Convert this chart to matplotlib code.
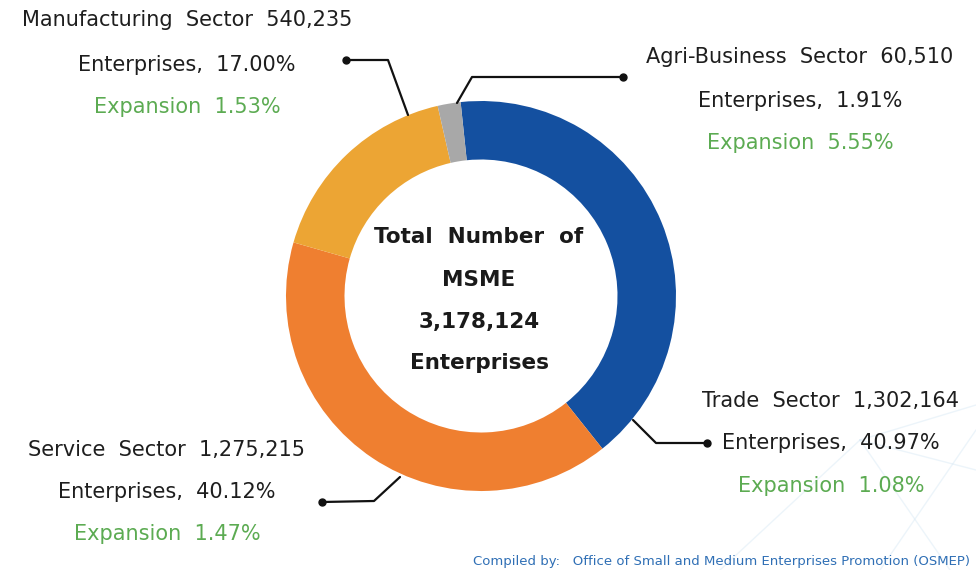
import matplotlib
matplotlib.use("Agg")
import matplotlib.pyplot as plt

# Sector data (number of enterprises), drawn clockwise from the top
sectors = ["Trade", "Service", "Manufacturing", "Agri-Business"]
counts = [1302164, 1275215, 540235, 60510]
shares = [40.97, 40.12, 17.00, 1.91]
expansion = [1.08, 1.47, 1.53, 5.55]
total = 3178124
colors = ["#1450a0", "#ef7f30", "#eca534", "#a8a8a8"]

plt.rcParams["font.family"] = ["DejaVu Sans"]

W, H = 976, 570
fig = plt.figure(figsize=(W / 100, H / 100), dpi=100)
ax = fig.add_axes([0, 0, 1, 1])


def Y(y):
    return H - y


# faint network pattern in the lower right background
net_lines = [
    [(720, 570), (860, 440)], [(860, 440), (976, 405)], [(860, 440), (950, 570)],
    [(860, 440), (976, 470)], [(880, 570), (976, 430)],
]
for (x0, y0), (x1, y1) in net_lines:
    ax.plot([x0, x1], [Y(y0), Y(y1)], color="#d6e8f4", lw=1.0, alpha=0.45, zorder=0)

cx, cy, r = 481, 296, 195
ax.pie(counts, colors=colors, startangle=96, counterclock=False,
       center=(cx, Y(cy)), radius=r,
       wedgeprops=dict(width=r * 0.30, edgecolor="none"))

# centre text
center_lines = ["Total  Number  of", "MSME", f"{total:,}", "Enterprises"]
for txt, yy in zip(center_lines, [237, 280, 322, 363]):
    ax.text(479, Y(yy), txt, ha="center", va="center", fontsize=15.5,
            fontweight="bold", color="#1a1a1a")

dark = "#1e1e1e"
green = "#5cab52"
fs = 15

# label blocks: (sector index, centre x, y of three lines)
blocks = [
    (2, 187, [20, 65, 107]),
    (3, 800, [57, 101, 143]),
    (0, 831, [401, 443, 486]),
    (1, 167, [450, 492, 534]),
]
for i, x, ys in blocks:
    ax.text(x, Y(ys[0]), f"{sectors[i]}  Sector  {counts[i]:,}", ha="center",
            va="center", fontsize=fs, color=dark)
    ax.text(x, Y(ys[1]), f"Enterprises,  {shares[i]:.2f}%", ha="center",
            va="center", fontsize=fs, color=dark)
    ax.text(x, Y(ys[2]), f"Expansion  {expansion[i]:.2f}%", ha="center",
            va="center", fontsize=fs, color=green)

# leader lines: dot end, elbow, ring end
leaders = [
    [(346, 60), (388, 60), (408, 115)],
    [(623, 77), (472, 77), (457, 103)],
    [(707, 443), (656, 443), (633, 420)],
    [(322, 502), (374, 501), (400, 477)],
]
for pts in leaders:
    xs = [p[0] for p in pts]
    ys = [Y(p[1]) for p in pts]
    ax.plot(xs, ys, color="#111111", lw=1.6, solid_capstyle="round", zorder=5)
    ax.plot(xs[0], ys[0], "o", color="#111111", ms=5, zorder=6)

ax.text(970, Y(562), "Compiled by:   Office of Small and Medium Enterprises Promotion (OSMEP)",
        ha="right", va="center", fontsize=9.5, color="#2f6fb5")

ax.set_xlim(0, W)
ax.set_ylim(0, H)
ax.set_aspect("equal")
ax.axis("off")
fig.savefig("out.png", dpi=100, facecolor="white")
